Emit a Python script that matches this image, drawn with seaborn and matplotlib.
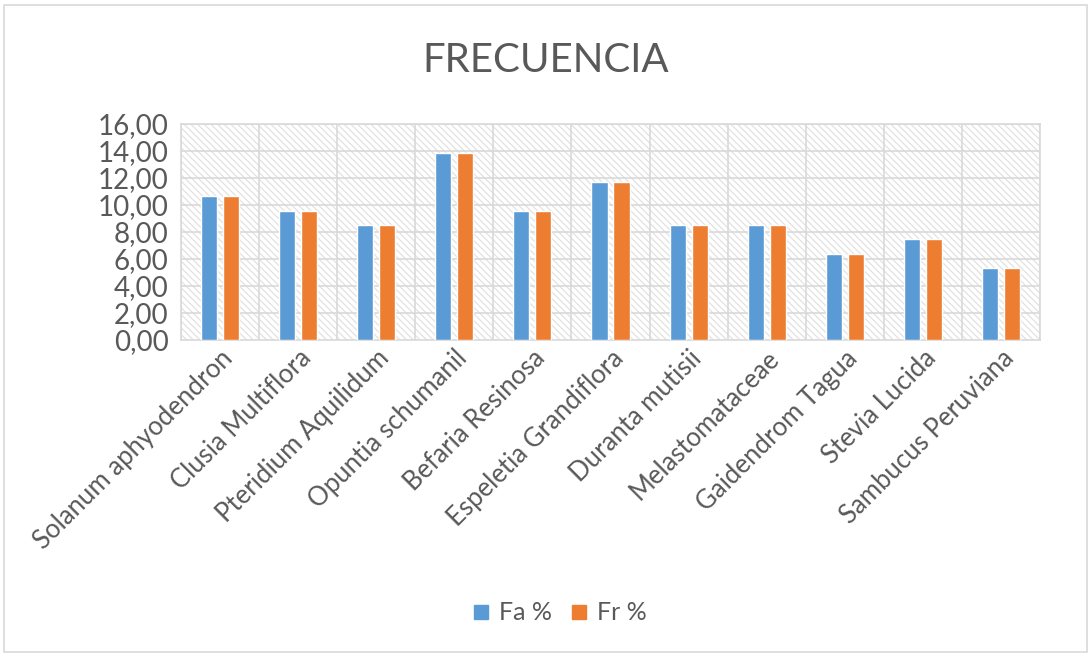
import matplotlib
matplotlib.use("Agg")
import matplotlib.pyplot as plt
import seaborn as sns
import pandas as pd
from matplotlib.patches import Rectangle
from matplotlib.lines import Line2D
from matplotlib.ticker import FuncFormatter, MultipleLocator

especies = ["Solanum aphyodendron", "Clusia Multiflora", "Pteridium Aquilidum",
            "Opuntia schumanil", "Befaria Resinosa", "Espeletia Grandiflora",
            "Duranta mutisii", "Melastomataceae", "Gaidendrom Tagua",
            "Stevia Lucida", "Sambucus Peruviana"]
fa = [10.64, 9.57, 8.51, 13.83, 9.57, 11.70, 8.51, 8.51, 6.38, 7.45, 5.32]
fr = [10.64, 9.57, 8.51, 13.83, 9.57, 11.70, 8.51, 8.51, 6.38, 7.45, 5.32]
series = ["Fa %", "Fr %"]
colores = ["#5B9BD5", "#ED7D31"]

df = pd.DataFrame({
    "especie": especies * 2,
    "valor": fa + fr,
    "serie": [series[0]] * len(especies) + [series[1]] * len(especies),
})

sns.set_theme(style="white")
plt.rcParams["font.family"] = ["Lato", "DejaVu Sans"]
plt.rcParams["hatch.linewidth"] = 0.9

fig = plt.figure(figsize=(10.92, 6.56), dpi=100)
ax = fig.add_axes([181/1092, 1 - 340/656, (1040-181)/1092, (340-124)/656])

grid_c = "#d9d9d9"
text_c = "#595959"

# hatched background
bg = Rectangle((0, 0), 1, 1, transform=ax.transAxes, facecolor="white",
               edgecolor="#e2e2e2", hatch="\\\\\\\\\\", lw=0, zorder=0)
ax.add_patch(bg)

sns.barplot(data=df, x="especie", y="valor", hue="serie",
            palette=colores, saturation=1, width=0.564, gap=0.27,
            ax=ax, zorder=3, legend=False)

ax.set_ylim(0, 16)
ax.set_xlim(-0.5, len(especies) - 0.5)
ax.yaxis.set_major_locator(MultipleLocator(2))
ax.yaxis.set_major_formatter(FuncFormatter(lambda v, p: f"{v:.2f}".replace(".", ",")))
for y in range(2, 17, 2):
    ax.axhline(y, color=grid_c, lw=1.2, zorder=1)
for x in range(len(especies) + 1):
    ax.axvline(x - 0.5, color=grid_c, lw=1.2, zorder=1)

for s in ax.spines.values():
    s.set_color(grid_c)
    s.set_linewidth(1.2)

ax.set_xlabel("")
ax.set_ylabel("")
ax.tick_params(axis="both", length=0, colors=text_c)
ax.tick_params(axis="y", labelsize=20, pad=9)
ax.tick_params(axis="x", labelsize=18.5, pad=4)
plt.setp(ax.get_xticklabels(), rotation=45, ha="right", rotation_mode="anchor", color=text_c)
plt.setp(ax.get_yticklabels(), color=text_c)

fig.text(0.5, 1 - 61/656, "FRECUENCIA", ha="center", va="center",
         fontsize=29, color=text_c)

handles = [Line2D([], [], marker="s", ls="", color=c, markersize=9.6) for c in colores]
leg = ax.legend(handles, series, loc="center", bbox_to_anchor=(0.513, 1 - 613/656),
                bbox_transform=fig.transFigure, ncol=2, frameon=False, fontsize=18,
                handlelength=0.6, handletextpad=0.4, columnspacing=0.8)
for t in leg.get_texts():
    t.set_color(text_c)

fig.patches.append(Rectangle((4/1092, 4/656), 1 - 9/1092, 1 - 9/656,
                             transform=fig.transFigure, fill=False,
                             edgecolor=grid_c, lw=1.2))

fig.savefig("out.png", dpi=100, facecolor="white")
